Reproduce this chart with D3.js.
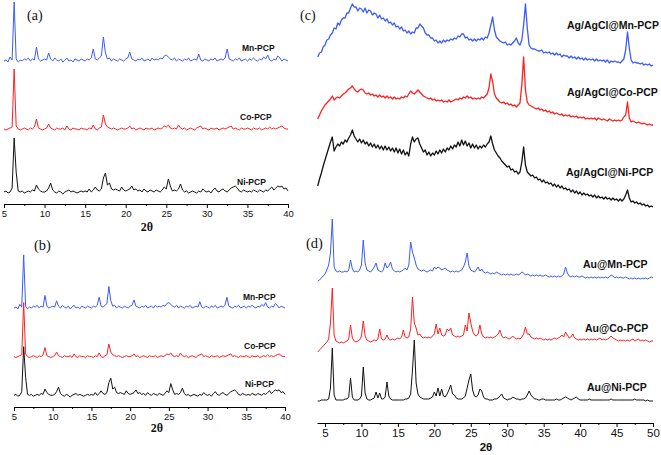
<!DOCTYPE html>
<html><head><meta charset="utf-8">
<script src="https://cdn.jsdelivr.net/npm/d3@7"></script>
<style>body{margin:0;background:#fff}svg{display:block}</style>
</head><body>
<svg id="chart" width="661" height="455"></svg>
<script>
// ---------- DATA ----------
// Panels (a) and (b): 2θ from 5 to 40, step 0.25 (same patterns)
const rangeAB = [5, 40];
const mnPCP = [9,10,8,13,10,68,11,8,10,9,11,10,12,9,11,10,23,11,9,10,
11,10,17,11,9,12,10,9,11,8,10,12,9,10,8,11,10,9,11,10,
9,11,10,12,21,11,10,12,14,33,17,11,12,9,11,10,9,11,10,9,
11,12,18,11,10,9,11,10,12,9,10,11,9,12,10,11,10,12,11,14,
15,13,11,10,12,9,11,10,9,11,10,12,9,10,11,10,16,10,9,11,
10,9,11,10,12,9,10,11,10,12,21,11,10,9,11,10,12,9,10,11,
9,11,10,12,10,9,11,10,13,11,15,10,9,11,10,14,12,9,11,10,9];
const coPCP = [10,9,10,11,12,70,13,10,9,10,11,10,9,11,10,12,20,11,10,9,
10,11,15,11,10,9,11,10,10,11,9,13,10,9,11,10,10,9,11,10,
10,9,11,10,14,10,9,11,12,24,15,12,11,10,11,10,9,10,11,10,
10,11,13,10,11,9,10,11,10,9,11,10,10,11,9,10,11,10,11,13,
12,14,11,10,11,10,14,11,10,11,9,10,11,10,9,11,12,13,10,11,
10,9,11,10,10,11,9,10,11,10,11,12,13,10,11,10,9,11,10,10,
11,10,9,11,10,10,11,9,10,11,10,12,10,11,10,11,12,13,11,10,10];
const niPCP = [10,11,9,10,14,64,30,11,10,11,9,10,11,10,12,11,17,13,11,10,
10,11,14,19,12,10,9,11,10,8,10,11,12,10,11,10,9,10,11,10,
11,10,13,10,12,15,12,11,13,24,29,17,19,13,12,13,12,11,15,12,
11,12,13,16,12,13,11,12,10,13,11,10,12,11,10,12,11,10,12,15,
13,23,16,11,12,11,13,18,12,10,11,9,10,11,10,9,11,10,13,11,
10,11,9,12,14,11,10,12,13,11,10,12,14,15,16,14,11,10,12,11,
10,11,10,12,11,10,12,11,10,12,11,13,15,12,14,16,15,16,13,14,11];

// Panels (c) and (d): 2θ from 4 to 50, step 0.25
const rangeCD = [4, 50];
const agMn = [13,17,18,23,25,30,31,35,37,42,41,47,45,50,52,52,57,57,62,66,
63,63,59,62,61,58,62,57,60,59,55,57,56,52,55,51,52,49,51,47,
48,45,47,43,44,41,43,39,40,37,39,36,38,37,42,42,46,44,42,37,
35,35,32,32,29,30,27,29,27,30,28,30,29,31,30,32,31,34,33,36,
36,32,33,30,31,29,31,29,31,30,32,30,33,32,37,45,53,40,33,31,
29,28,27,28,25,26,25,27,29,32,27,25,30,45,66,42,25,22,21,21,
20,19,19,20,17,18,17,18,16,17,15,17,15,16,13,15,14,14,12,14,
12,13,11,13,11,12,10,12,10,11,10,11,9,11,9,10,9,10,8,10,
7,9,8,9,8,8,7,9,11,20,38,22,10,7,8,7,7,6,7,5,
6,5,6,4,5];
const agCo = [11,15,19,22,25,27,29,31,34,30,32,33,32,34,36,37,39,41,42,44,
41,39,38,40,41,40,37,36,37,35,36,34,35,33,35,33,34,32,34,32,
33,31,33,31,32,31,33,32,34,33,36,39,37,36,38,40,38,36,34,33,
32,31,32,30,31,29,30,29,30,28,29,28,30,28,29,30,31,30,32,31,
33,32,34,32,33,31,32,31,32,31,33,32,34,36,42,56,48,36,32,30,
28,27,28,26,27,25,26,24,25,23,25,27,45,73,40,28,25,24,23,22,
21,22,20,21,19,20,18,19,17,18,16,17,16,15,16,14,15,14,15,13,
14,13,14,12,13,12,13,11,12,11,12,11,12,10,12,11,10,11,10,9,
11,10,9,10,9,10,9,10,13,15,28,12,8,9,8,7,8,7,6,7,
6,5,6,5,5];
const agNi = [24,31,37,44,50,56,62,68,73,59,63,66,64,68,66,70,68,72,75,80,
74,71,68,71,67,70,66,68,64,67,63,66,62,65,61,64,60,64,60,63,
59,62,58,62,57,61,56,60,55,58,54,66,73,68,71,72,66,62,58,60,
55,58,54,57,55,59,56,60,57,61,58,62,60,64,61,65,63,68,64,70,
65,69,64,67,62,66,62,65,61,64,62,65,63,66,68,74,66,60,57,54,
52,49,47,45,43,44,40,41,38,39,36,38,48,63,45,38,36,34,35,32,
33,30,31,28,30,27,28,26,27,24,26,23,25,22,24,21,22,20,21,18,
20,17,19,16,18,15,17,15,16,14,15,13,15,12,14,12,13,11,13,11,
12,10,12,10,11,9,11,9,11,15,20,12,8,9,7,8,6,7,5,6,
4,5,3,4,3];
const auMn = [2,3,5,7,9,13,18,30,64,16,12,11,12,11,11,12,11,13,23,14,
11,12,11,13,18,43,20,13,12,11,13,16,20,13,12,11,13,20,15,17,
21,14,12,11,12,11,12,13,15,13,18,41,31,25,18,14,13,12,13,12,
11,12,13,12,16,14,16,15,13,14,15,13,12,11,12,11,12,11,12,13,
16,21,30,17,13,12,11,13,16,12,14,11,10,11,10,9,10,9,11,10,
9,8,9,8,9,8,9,8,8,9,8,9,11,10,8,9,8,7,8,7,
8,7,8,7,7,8,7,6,7,6,7,6,7,6,7,9,16,10,7,6,
7,6,7,6,6,7,6,5,6,5,6,5,6,5,6,5,6,5,6,5,
6,8,7,5,6,5,6,5,5,6,5,4,5,4,5,4,5,4,5,4,
5,4,5,6,5];
const auCo = [1,3,5,7,9,11,14,30,65,18,12,11,10,11,10,11,12,14,28,15,
12,11,12,13,17,32,17,13,12,11,12,13,12,14,24,14,13,14,18,14,
13,14,13,14,15,14,16,23,16,15,16,24,56,30,25,18,19,16,15,16,
15,16,15,17,19,29,19,25,18,17,18,24,22,25,18,17,16,17,16,17,
18,28,22,40,30,22,18,17,19,28,19,16,15,16,15,16,15,16,17,19,
23,17,15,16,15,14,15,17,15,14,15,14,16,19,26,19,19,16,15,14,
15,14,15,14,13,14,13,14,13,14,15,14,15,16,18,16,21,18,15,16,
19,15,14,13,14,13,14,13,14,13,14,13,14,13,14,15,13,14,13,14,
15,17,15,14,13,12,13,12,13,12,13,12,13,14,12,13,14,12,13,12,
13,12,11,12,12];
const auNi = [9,9,10,10,10,10,11,22,62,15,10,10,10,10,10,11,11,13,32,13,
10,10,10,11,14,43,17,11,10,10,11,12,18,12,17,11,11,13,28,14,
11,10,10,10,10,10,10,10,11,11,12,16,40,70,27,16,13,12,11,11,
11,11,12,13,18,14,22,14,21,14,13,16,20,25,16,15,12,11,11,11,
12,14,22,30,36,20,14,13,15,21,19,13,11,11,10,10,10,11,11,12,
14,16,12,11,10,11,11,13,12,11,11,10,11,11,12,15,19,15,13,11,
11,10,10,11,11,10,10,10,10,10,10,11,10,10,11,12,13,12,11,10,
11,12,13,11,10,10,10,10,10,11,10,10,10,10,10,10,10,10,10,10,
10,11,10,10,10,10,10,10,10,10,10,10,10,10,11,10,10,10,10,10,
9,10,9,9,9];

const ticksAB = [5,10,15,20,25,30,35,40];
const minorAB = [7.5,12.5,17.5,22.5,27.5,32.5,37.5];
const ticksD = [5,10,15,20,25,30,35,40,45,50];
const minorD = [7.5,12.5,17.5,22.5,27.5,32.5,37.5,42.5,47.5];
const labelsAB = ["Mn-PCP","Co-PCP","Ni-PCP"];
const labelsC = ["Ag/AgCl@Mn-PCP","Ag/AgCl@Co-PCP","Ag/AgCl@Ni-PCP"];
const labelsD = ["Au@Mn-PCP","Au@Co-PCP","Au@Ni-PCP"];
const colors = ["#3b5cf5","#ff1f1f","#111111"];

// ---------- DRAW ----------
const svg = d3.select("#chart");
const SANS = "'Liberation Sans', Arial, sans-serif";
const SERIF = "'Liberation Serif', 'Times New Roman', serif";

function toPts(vals, range){
  const step = (range[1]-range[0])/(vals.length-1);
  return vals.map((v,i)=>[range[0]+i*step, v]);
}
function drawSeries(vals, range, x, y, offset, color, w){
  const line = d3.line().x(d=>x(d[0])).y(d=>y(d[1]+offset));
  svg.append("path").datum(toPts(vals, range))
    .attr("d", line).attr("fill","none").attr("stroke",color)
    .attr("stroke-width", w).attr("stroke-linejoin","round");
}
function drawAxis(x, yPos, major, minor, fontSize){
  const g = svg.append("g").attr("transform",`translate(0,${yPos})`)
    .call(d3.axisBottom(x).tickValues(major).tickSize(4).tickSizeOuter(0).tickPadding(2).tickFormat(d3.format("d")));
  g.select(".domain").attr("stroke","#000");
  g.selectAll(".tick line").attr("stroke","#000");
  g.selectAll("text").attr("font-family",SANS).attr("font-size",fontSize).attr("fill","#111");
  const gm = svg.append("g").attr("transform",`translate(0,${yPos})`)
    .call(d3.axisBottom(x).tickValues(minor).tickSize(2).tickFormat(""));
  gm.select(".domain").remove();
  gm.selectAll(".tick line").attr("stroke","#000");
}
function text(t, xp, yp, font, size, weight, anchor){
  svg.append("text").attr("x",xp).attr("y",yp).text(t)
    .attr("font-family",font).attr("font-size",size).attr("font-weight",weight||"normal")
    .attr("text-anchor",anchor||"start").attr("dominant-baseline","central").attr("fill","#111");
}

// Panel (a)
const xA = d3.scaleLinear().domain(rangeAB).range([4, 288]);
const yA = d3.scaleLinear().domain([0, 204]).range([204, 0]);
const offA = [134, 65, 2];
[niPCP, coPCP, mnPCP].forEach((s,k)=>{ const i = 2-k; drawSeries(s, rangeAB, xA, yA, offA[i], colors[i], 1); });
drawAxis(xA, 204, ticksAB, minorAB, 9.5);
text("2θ", 147, 227, SERIF, 12, "bold", "middle");
text("(a)", 27, 15, SERIF, 14);
[[242,48],[240,117],[237,182]].forEach((p,i)=>text(labelsAB[i], p[0], p[1], SANS, 8.5, "bold"));

// Panel (b)
const xB = d3.scaleLinear().domain(rangeAB).range([14, 285]);
const yB = d3.scaleLinear().domain([0, 204]).range([407, 407 - 204*0.9]);
const offB = [101, 46, 3];
[niPCP, coPCP, mnPCP].forEach((s,k)=>{ const i = 2-k; drawSeries(s, rangeAB, xB, yB, offB[i], colors[i], 1); });
drawAxis(xB, 407, ticksAB, minorAB, 9.5);
text("2θ", 157, 428, SERIF, 12, "bold", "middle");
text("(b)", 34, 245, SERIF, 14.5);
[[243,297],[244,346],[245,384]].forEach((p,i)=>text(labelsAB[i], p[0], p[1], SANS, 8.5, "bold"));

// Panels (c) and (d) share the x scale
const xD = d3.scaleLinear().domain([3.9, 50]).range([317, 653]);
const yR = d3.scaleLinear().domain([0, 423]).range([423, 0]);
const offC = [353, 293, 213];
[agNi, agCo, agMn].forEach((s,k)=>{ const i = 2-k; drawSeries(s, rangeCD, xD, yR, offC[i], colors[i], 1.3); });
text("(c)", 300, 15, SERIF, 14);
[[567,25],[567,92],[566,172]].forEach((p,i)=>text(labelsC[i], p[0], p[1], SANS, 10.5, "bold"));

const offD = [140, 70, 13];
[auNi, auCo, auMn].forEach((s,k)=>{ const i = 2-k; drawSeries(s, rangeCD, xD, yR, offD[i], colors[i], 1); });
drawAxis(xD, 423, ticksD, minorD, 11.5);
text("2θ", 486, 447, SANS, 11.5, "bold", "middle");
text("(d)", 306, 243, SERIF, 14.5);
[[583,264],[585,328],[587,387]].forEach((p,i)=>text(labelsD[i], p[0], p[1], SANS, 10.5, "bold"));
</script>
</body></html>
